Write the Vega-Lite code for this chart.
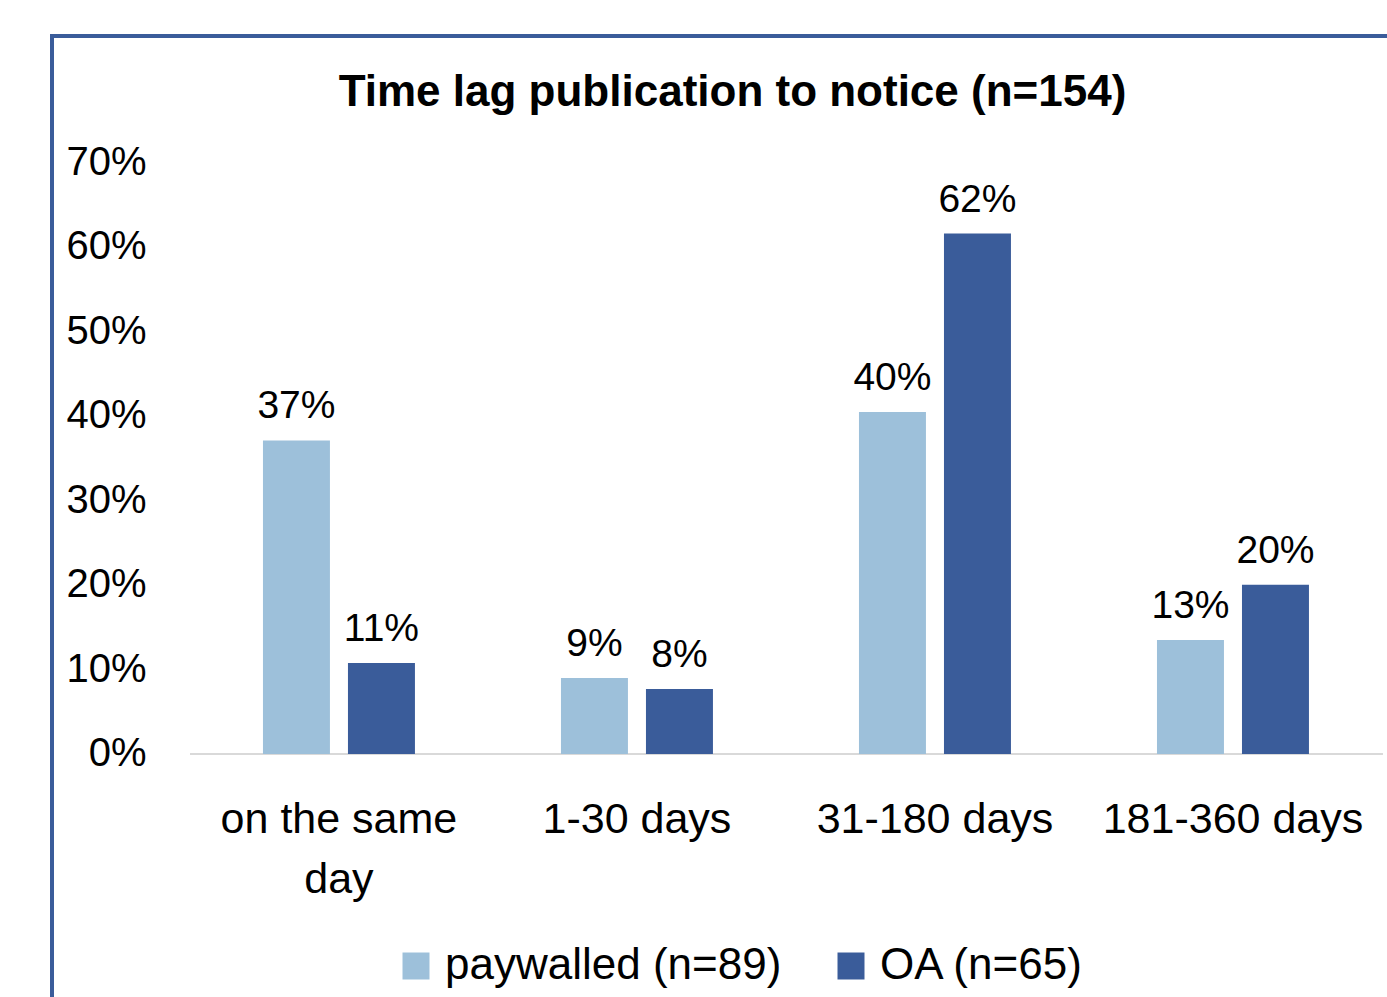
{
  "$schema": "https://vega.github.io/schema/vega-lite/v6.json",
  "autosize": {"type": "none"},
  "padding": {"left": 52, "top": 36, "right": 0, "bottom": 0},
  "width": 1339,
  "height": 964,
  "title": {
    "text": "Time lag publication to notice (n=154)",
    "font": "Liberation Sans",
    "fontSize": 44,
    "fontWeight": "bold",
    "color": "#000000",
    "anchor": "middle",
    "frame": "group",
    "baseline": "alphabetic",
    "offset": -114,
    "dx": 11
  },
  "config": {
    "view": {"stroke": "#3A5C9A", "strokeWidth": 4},
    "font": "Liberation Sans"
  },
  "data": {
    "values": [
      {"category": "on the same day", "group": "paywalled (n=89)", "value": 0.3708},
      {"category": "on the same day", "group": "OA (n=65)", "value": 0.1077},
      {"category": "1-30 days", "group": "paywalled (n=89)", "value": 0.0899},
      {"category": "1-30 days", "group": "OA (n=65)", "value": 0.0769},
      {"category": "31-180 days", "group": "paywalled (n=89)", "value": 0.4045},
      {"category": "31-180 days", "group": "OA (n=65)", "value": 0.6154},
      {"category": "181-360 days", "group": "paywalled (n=89)", "value": 0.1348},
      {"category": "181-360 days", "group": "OA (n=65)", "value": 0.2}
    ]
  },
  "encoding": {
    "x": {
      "field": "category",
      "type": "nominal",
      "sort": ["on the same day", "1-30 days", "31-180 days", "181-360 days"],
      "scale": {"paddingInner": 0.49, "paddingOuter": 0.4916, "align": 0.72},
      "axis": {
        "title": null,
        "labelAngle": 0,
        "domain": false,
        "ticks": false,
        "grid": false,
        "labelFontSize": 43,
        "labelPadding": 44,
        "offset": -246,
        "labelColor": "#000000",
        "labelLimit": 0,
        "labelExpr": "datum.label == 'on the same day' ? ['on the same', 'day'] : datum.label",
        "labelLineHeight": 60
      }
    },
    "y": {
      "field": "value",
      "type": "quantitative",
      "scale": {"domain": [-0.2909, 0.849], "nice": false, "zero": false},
      "axis": {
        "title": null,
        "values": [0, 0.1, 0.2, 0.3, 0.4, 0.5, 0.6, 0.7],
        "format": ".0%",
        "domain": false,
        "ticks": false,
        "grid": false,
        "labelFontSize": 40,
        "labelColor": "#000000",
        "offset": -100,
        "labelPadding": 6
      }
    }
  },
  "layer": [
    {
      "data": {"values": [{"baseline": 0}]},
      "mark": {"type": "rule", "color": "#D9D9D9", "strokeWidth": 2},
      "encoding": {
        "y": {"field": "baseline", "type": "quantitative"},
        "x": {"datum": "on the same day", "bandPosition": -0.48},
        "x2": {"datum": "181-360 days", "bandPosition": 1.487}
      }
    },
    {
      "mark": {"type": "bar"},
      "encoding": {
        "y2": {"datum": 0},
        "xOffset": {
          "field": "group",
          "type": "nominal",
          "sort": ["paywalled (n=89)", "OA (n=65)"],
          "scale": {"paddingInner": 0.212, "paddingOuter": 0}
        },
        "color": {
          "field": "group",
          "type": "nominal",
          "sort": ["paywalled (n=89)", "OA (n=65)"],
          "scale": {"domain": ["paywalled (n=89)", "OA (n=65)"], "range": ["#9DC0DA", "#3A5C9A"]},
          "legend": {
            "orient": "none",
            "direction": "horizontal",
            "legendX": 342,
            "legendY": 908,
            "title": null,
            "symbolType": "square",
            "symbolSize": 729,
            "symbolStrokeWidth": 0,
            "labelFontSize": 44,
            "labelOffset": 7,
            "columnPadding": 47,
            "labelColor": "#000000",
            "labelLimit": 0,
            "padding": 0
          }
        }
      }
    },
    {
      "mark": {"type": "text", "baseline": "alphabetic", "dy": -22, "fontSize": 39, "color": "#000000"},
      "encoding": {
        "xOffset": {
          "field": "group",
          "type": "nominal",
          "sort": ["paywalled (n=89)", "OA (n=65)"]
        },
        "text": {"field": "value", "type": "quantitative", "format": ".0%"}
      }
    }
  ]
}
